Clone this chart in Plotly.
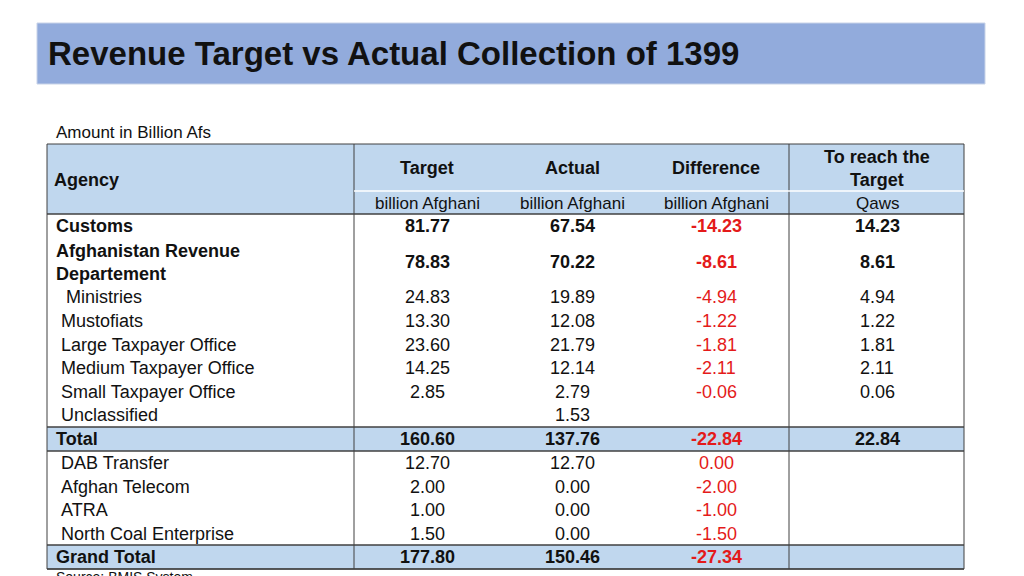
import plotly.graph_objects as go

W, H = 1024, 576
OFF = 8
title = "Revenue Target vs Actual Collection of 1399"
subtitle = "Amount in Billion Afs"
headers = ["Target", "Actual", "Difference", "To reach the<br>Target"]
units = ["billion Afghani", "billion Afghani", "billion Afghani", "Qaws"]
agencies = ["Customs", "Afghanistan Revenue<br>Departement", " Ministries", "Mustofiats",
            "Large Taxpayer Office", "Medium Taxpayer Office", "Small Taxpayer Office",
            "Unclassified", "Total", "DAB Transfer", "Afghan Telecom", "ATRA",
            "North Coal Enterprise", "Grand Total"]
target = ["81.77", "78.83", "24.83", "13.30", "23.60", "14.25", "2.85", "", "160.60",
          "12.70", "2.00", "1.00", "1.50", "177.80"]
actual = ["67.54", "70.22", "19.89", "12.08", "21.79", "12.14", "2.79", "1.53", "137.76",
          "12.70", "0.00", "0.00", "0.00", "150.46"]
difference = ["-14.23", "-8.61", "-4.94", "-1.22", "-1.81", "-2.11", "-0.06", "", "-22.84",
              "0.00", "-2.00", "-1.00", "-1.50", "-27.34"]
to_reach = ["14.23", "8.61", "4.94", "1.22", "1.81", "2.11", "0.06", "", "22.84",
            "", "", "", "", ""]
bold_rows = {0, 1, 8, 13}
band_rows = {8, 13}

row_y = [226, 262, 297, 321, 345, 368, 392, 415, 439, 463, 487, 510, 534, 557]
col_x = [427, 572, 716, 877]
FONT = "Liberation Sans, Arial, sans-serif"

def px(x): return (x - OFF) / W
def py(y): return 1 - (y - OFF) / H

shapes, ann = [], []
def rect(x0, y0, x1, y1, fill, line=None, lw=0):
    shapes.append(dict(type="rect", xref="paper", yref="paper", x0=px(x0), x1=px(x1),
                       y0=py(y1), y1=py(y0), fillcolor=fill,
                       line=dict(color=line or fill, width=lw), layer="below"))
def line(x0, y0, x1, y1, color="#404040", w=1):
    shapes.append(dict(type="line", xref="paper", yref="paper", x0=px(x0), x1=px(x1),
                       y0=py(y0), y1=py(y1), line=dict(color=color, width=w)))
def text(x, y, s, size=18, bold=False, color="#111111", anchor="center"):
    ann.append(dict(xref="paper", yref="paper", x=px(x), y=py(y), text=f"<b>{s}</b>" if bold else s,
                    showarrow=False, xanchor=anchor, yanchor="middle", align=anchor if anchor!="center" else "center",
                    font=dict(family=FONT, size=size, color=color)))

# title bar
rect(37, 23, 985, 84, "#92abdc", "#c8d3e8", 1)
text(46, 53, title, size=33, bold=True, anchor="left")
text(54, 133, subtitle, size=17, anchor="left")

L, R, C1, C2 = 47, 964, 354, 789
rect(L, 144, R, 214, "#c0d7ee")
for r in band_rows:
    rect(L, row_y[r] - 12, R, row_y[r] + 12, "#c0d7ee")
line(L, 144, R, 144); line(L, 569, R, 569)
line(L, 144, L, 569); line(R, 144, R, 569)
line(C1, 144, C1, 569); line(C2, 144, C2, 569)
line(C1, 191, R, 191, "#ffffff", 1.5)
line(L, 214, R, 214, "#404040", 1.5)
for r in band_rows:
    line(L, row_y[r] - 12, R, row_y[r] - 12, "#404040", 1.5)
    line(L, row_y[r] + 12, R, row_y[r] + 12, "#404040", 1.5)

text(52, 180, "Agency", bold=True, anchor="left")
for i, h in enumerate(headers):
    text(col_x[i], 168, h, bold=True)
    text(col_x[i], 203, units[i], size=17)

for r, name in enumerate(agencies):
    b = r in bold_rows
    y = row_y[r]
    text(54 if b else 59, y, name, bold=b, anchor="left")
    text(col_x[0], y, target[r], bold=b)
    text(col_x[1], y, actual[r], bold=b)
    text(col_x[2], y, difference[r], bold=b, color="#e41a1a")
    text(col_x[3], y, to_reach[r], bold=b)

text(54, 577, "Source: BMIS System", size=14, anchor="left")

fig = go.Figure()
fig.update_layout(width=W, height=H, margin=dict(l=0, r=0, t=0, b=0),
                  paper_bgcolor="white", plot_bgcolor="white",
                  xaxis=dict(visible=False), yaxis=dict(visible=False),
                  shapes=shapes, annotations=ann, showlegend=False)
fig.write_html("out.html")
